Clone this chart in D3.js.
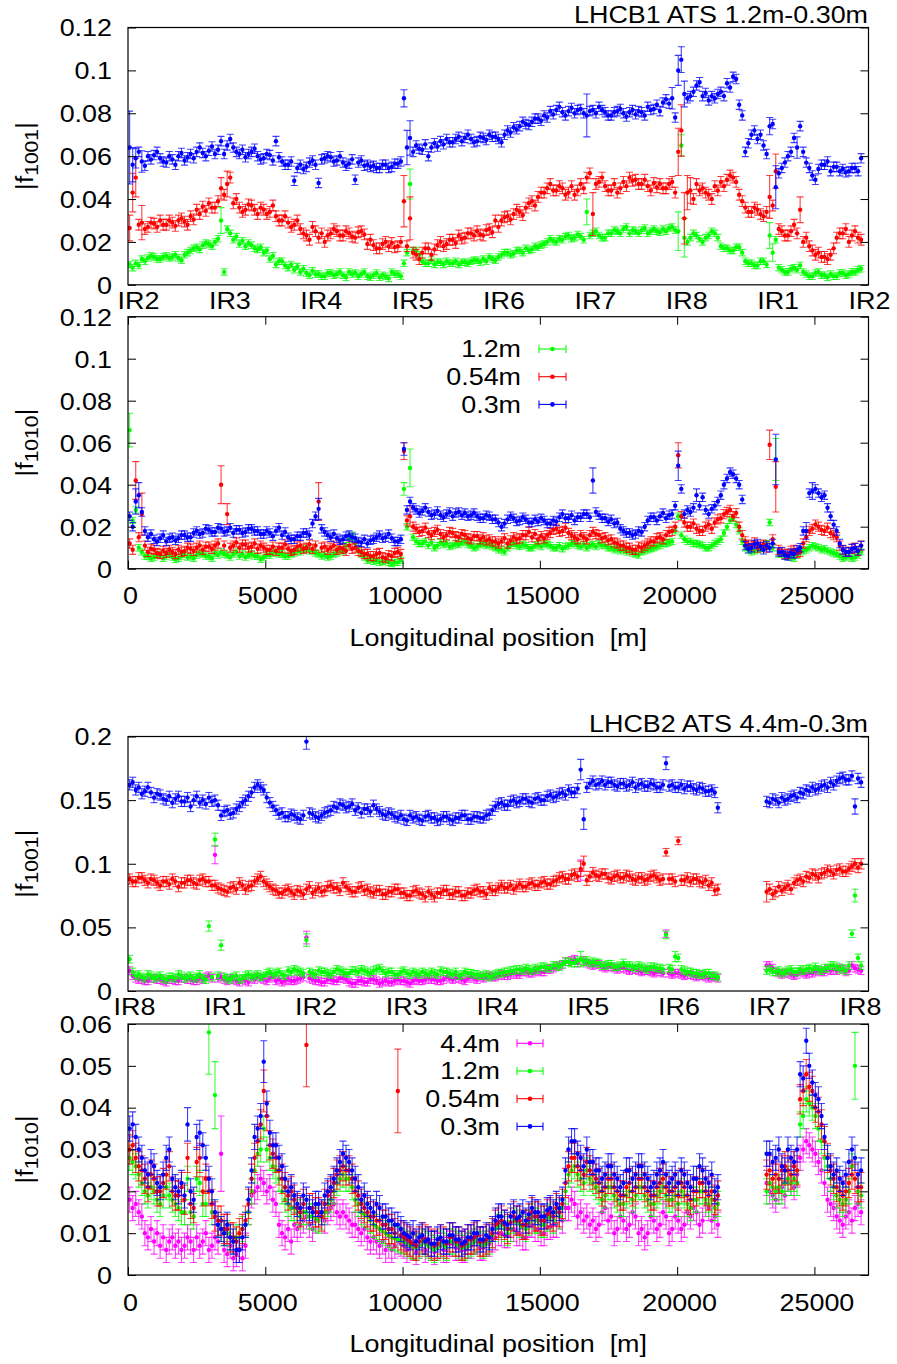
<!DOCTYPE html>
<html><head><meta charset="utf-8">
<script src="https://cdn.jsdelivr.net/npm/d3@7"></script>
<style>
body{margin:0;background:#fff}
svg{display:block;background:#fff}
text{font-family:"Liberation Sans",Arial,sans-serif;fill:#000;white-space:pre}
</style>
</head><body>
<svg id="chart" width="897" height="1364"></svg>
<script>
// ---------------- DATA (values in units of 1e-4) ----------------
const xTicks = [0, 5000, 10000, 15000, 20000, 25000];
const yTicksB1 = [0, 0.02, 0.04, 0.06, 0.08, 0.1, 0.12];
const yTicksB2f1001 = [0, 0.05, 0.1, 0.15, 0.2];
const yTicksB2f1010 = [0, 0.01, 0.02, 0.03, 0.04, 0.05, 0.06];
const irLabelsB1 = ["IR2","IR3","IR4","IR5","IR6","IR7","IR8","IR1","IR2"];
const irLabelsB2 = ["IR8","IR1","IR2","IR3","IR4","IR5","IR6","IR7","IR8"];
const legendB1 = ["1.2m","0.54m","0.3m"];
const legendB2 = ["4.4m","1.2m","0.54m","0.3m"];
const titleB1 = "LHCB1 ATS 1.2m-0.30m";
const titleB2 = "LHCB2 ATS 4.4m-0.3m";
const xLabel = "Longitudinal position  [m]";

// Beam 1 BPM positions [m]
const b1Pos = [60,171,282,393,504,615,726,837,948,1059,1170,1281,1392,1503,1614,1725,1836,1947,2058,2169,
2280,2391,2502,2613,2724,2835,2946,3057,3168,3279,3390,3501,3612,3723,3834,3945,4056,4167,4278,4389,
4500,4611,4722,4833,4944,5055,5166,5277,5388,5499,5610,5721,5832,5943,6054,6165,6276,6387,6498,6609,
6720,6831,6942,7053,7164,7275,7386,7497,7608,7719,7830,7941,8052,8163,8274,8385,8496,8607,8718,8829,
8940,9051,9162,9273,9384,9495,9606,9717,9828,9939,10050,10161,10272,10383,10494,10605,10716,10827,10938,11049,
11160,11271,11382,11493,11604,11715,11826,11937,12048,12159,12270,12381,12492,12603,12714,12825,12936,13047,13158,13269,
13380,13491,13602,13713,13824,13935,14046,14157,14268,14379,14490,14601,14712,14823,14934,15045,15156,15267,15378,15489,
15600,15711,15822,15933,16044,16155,16266,16377,16488,16599,16710,16821,16932,17043,17154,17265,17376,17487,17598,17709,
17820,17931,18042,18153,18264,18375,18486,18597,18708,18819,18930,19041,19152,19263,19374,19485,19596,19707,19818,19929,
20040,20151,20262,20373,20484,20595,20706,20817,20928,21039,21150,21261,21372,21483,21594,21705,21816,21927,22038,22149,
22260,22371,22482,22593,22704,22815,22926,23037,23148,23259,23370,23481,23592,23703,23814,23925,24036,24147,24258,24369,
24480,24591,24702,24813,24924,25035,25146,25257,25368,25479,25590,25701,25812,25923,26034,26145,26256,26367,26478,26589,
26700];

// Beam 2 BPM positions [m] (no data between 21.5 and 23.2 km)
const b2Pos = [60,171,282,393,504,615,726,837,948,1059,1170,1281,1392,1503,1614,1725,1836,1947,2058,2169,
2280,2391,2502,2613,2724,2835,2946,3057,3168,3279,3390,3501,3612,3723,3834,3945,4056,4167,4278,4389,
4500,4611,4722,4833,4944,5055,5166,5277,5388,5499,5610,5721,5832,5943,6054,6165,6276,6387,6498,6609,
6720,6831,6942,7053,7164,7275,7386,7497,7608,7719,7830,7941,8052,8163,8274,8385,8496,8607,8718,8829,
8940,9051,9162,9273,9384,9495,9606,9717,9828,9939,10050,10161,10272,10383,10494,10605,10716,10827,10938,11049,
11160,11271,11382,11493,11604,11715,11826,11937,12048,12159,12270,12381,12492,12603,12714,12825,12936,13047,13158,13269,
13380,13491,13602,13713,13824,13935,14046,14157,14268,14379,14490,14601,14712,14823,14934,15045,15156,15267,15378,15489,
15600,15711,15822,15933,16044,16155,16266,16377,16488,16599,16710,16821,16932,17043,17154,17265,17376,17487,17598,17709,
17820,17931,18042,18153,18264,18375,18486,18597,18708,18819,18930,19041,19152,19263,19374,19485,19596,19707,19818,19929,
20040,20151,20262,20373,20484,20595,20706,20817,20928,21039,21150,21261,21372,21483,
23259,23370,23481,23592,23703,23814,23925,24036,24147,24258,24369,
24480,24591,24702,24813,24924,25035,25146,25257,25368,25479,25590,25701,25812,25923,26034,26145,26256,26367,26478,26589,
26700];

// Beam 1 |f1001|
const b1F1001Green = [95,80,100,90,120,110,125,135,130,120,120,130,135,125,130,140,125,115,140,150,
160,170,175,165,185,195,190,180,200,215,300,60,260,240,210,225,190,205,180,195,
185,170,165,175,150,160,120,135,95,110,110,90,80,95,70,85,60,75,55,45,
65,50,50,40,40,55,55,45,50,60,45,35,60,50,55,40,50,60,40,35,
45,55,35,45,40,30,60,50,50,40,100,150,470,160,160,140,110,100,100,115,
95,105,105,95,110,100,100,110,95,105,105,100,110,115,115,105,120,110,130,120,
115,130,140,150,150,140,145,160,160,150,170,160,165,180,175,185,190,200,215,205,
200,215,210,225,230,215,220,235,225,210,340,230,240,250,230,220,220,240,240,255,
250,240,260,270,240,255,250,240,255,265,240,250,260,250,245,260,250,265,270,255,
250,650,220,200,220,240,230,215,200,220,230,250,240,220,180,170,170,160,160,175,
175,150,110,100,100,90,90,110,110,95,230,150,210,80,70,60,60,75,80,70,
90,60,50,40,40,55,60,45,45,35,50,40,40,55,55,45,50,60,60,70,
75];
const b1F1001Red = [265,430,500,280,290,260,270,290,285,270,300,280,280,300,290,275,300,310,295,280,
320,305,350,330,365,345,380,360,360,390,450,420,470,500,380,400,360,340,350,375,
370,350,330,360,350,330,340,370,320,300,300,320,290,270,280,300,260,240,230,210,
270,250,220,240,200,230,240,260,250,230,230,250,240,225,220,245,250,235,190,210,
185,170,170,190,200,180,195,175,180,200,390,180,310,150,140,120,150,170,170,140,
165,185,200,180,190,210,210,195,230,215,220,240,240,230,250,235,230,255,260,245,
300,270,300,315,320,305,330,350,340,325,360,380,390,370,410,430,430,450,470,440,
440,460,450,420,430,460,420,440,470,450,500,520,330,470,480,500,460,440,440,470,
430,450,480,460,500,485,490,470,470,490,460,440,475,455,470,450,450,470,480,430,
620,720,310,430,440,400,470,440,450,430,420,400,460,440,480,460,490,510,500,480,
420,390,360,340,340,360,350,330,320,340,410,370,530,260,250,230,230,250,280,240,
350,200,220,180,160,140,150,130,130,120,140,170,220,240,240,260,200,230,250,220,
210];
const b1F1001Blue = [640,560,590,620,575,555,600,585,605,620,590,575,570,600,585,560,600,615,580,595,
610,590,620,640,615,600,625,645,610,630,670,610,650,680,640,620,610,630,595,610,
620,635,600,585,590,610,605,580,670,595,575,560,560,575,485,545,560,540,550,570,
580,560,475,585,590,600,595,575,580,600,570,555,565,585,490,570,580,555,560,550,
555,545,545,560,560,545,550,565,565,575,870,640,685,620,650,635,630,655,600,640,
660,645,670,655,680,665,665,680,690,670,685,700,680,665,670,690,685,675,700,690,
690,680,665,700,720,710,735,725,740,760,750,745,760,775,775,765,790,780,810,795,
815,830,805,790,810,825,800,815,820,800,790,810,815,800,830,815,805,790,790,805,
810,820,800,785,805,815,795,810,805,790,830,815,820,840,810,850,865,845,870,780,
1000,1050,890,870,880,900,930,945,880,895,860,880,870,890,900,880,940,920,970,960,
840,790,620,660,700,720,680,700,650,610,740,750,455,520,545,570,600,620,685,640,
740,620,570,545,510,490,540,560,560,575,530,550,550,530,540,525,530,545,545,530,
590];
const b1F1001GreenErr = [15,[30,60],[92,70],[150,60],[180,90],[181,50],[182,90],[210,60],[211,40]];
const b1F1001RedErr = [25,[0,60],[1,90],[2,90],[4,80],[30,50],[32,60],[90,120],[92,100],[152,100],[180,110],[181,120],[182,120],[183,80],[184,60],[210,100],[212,80],[220,60]];
const b1F1001BlueErr = [22,[0,170],[1,80],[2,45],[4,50],[90,40],[91,80],[92,80],[150,100],[178,50],[180,70],[181,60],[182,60],[210,40],[212,100],[219,50]];

// Beam 1 |f1010|
const b1F1010Green = [660,230,280,100,80,60,60,50,55,65,65,50,60,70,55,45,50,60,70,55,
60,50,65,75,70,60,60,50,75,65,80,70,65,55,70,80,60,70,55,65,
70,60,60,45,55,65,65,75,80,70,70,60,60,70,75,85,80,90,95,85,
85,75,70,60,65,55,60,70,75,90,80,110,140,160,120,90,70,55,40,45,
35,40,30,35,40,30,25,30,30,40,380,200,480,150,130,120,120,130,110,125,
100,110,125,115,120,105,110,120,115,125,130,115,110,100,105,115,120,110,115,105,
100,90,90,80,100,110,120,110,105,115,110,100,100,110,115,105,120,115,110,100,
100,110,95,105,110,120,120,110,105,115,100,110,115,105,120,110,110,100,100,90,
95,85,90,80,85,75,70,65,80,85,90,95,100,105,110,120,120,125,130,180,
250,160,140,130,130,120,120,115,110,100,100,110,120,130,140,170,200,230,240,210,
180,130,100,90,80,85,90,95,100,120,220,100,520,70,70,60,60,55,50,65,
80,85,90,100,110,105,100,90,95,85,80,75,70,60,50,55,60,50,55,65,
80];
const b1F1010Red = [120,90,420,150,260,110,80,95,90,75,70,85,75,90,80,70,90,80,85,100,
95,85,100,110,90,105,105,95,110,120,400,110,260,100,110,125,100,115,115,100,
105,120,95,110,100,90,90,105,85,100,100,115,95,85,90,105,110,95,100,115,
95,110,320,100,105,90,100,110,90,100,95,85,110,95,100,85,80,70,70,60,
60,70,75,55,50,65,60,75,80,70,560,230,250,200,190,175,180,195,170,160,
175,185,165,150,160,175,170,155,150,165,160,145,140,155,155,140,150,135,140,130,
130,120,130,145,120,135,150,140,145,160,160,175,150,165,140,155,145,160,170,185,
190,175,180,195,170,160,150,140,160,150,140,160,175,165,160,145,150,135,140,125,
120,110,110,100,100,90,90,105,100,110,120,130,130,145,150,140,160,175,180,200,
540,250,220,200,200,215,190,180,180,200,210,190,220,235,240,260,270,280,250,265,
200,160,130,115,110,125,100,110,115,100,590,140,390,90,80,70,70,85,90,75,
80,120,150,180,190,210,200,185,180,195,170,160,150,110,90,80,80,95,100,85,
110];
const b1F1010Blue = [250,200,320,350,270,180,150,165,140,130,145,160,130,145,150,135,145,160,160,150,
150,170,180,165,170,190,185,175,175,195,190,175,180,195,170,185,185,170,175,190,
190,180,180,165,165,180,170,155,180,195,160,175,150,140,140,155,155,170,170,160,
215,250,285,190,175,160,150,165,145,135,140,155,160,150,145,130,125,140,120,135,
140,150,160,145,150,165,145,130,130,140,570,280,320,290,280,265,275,290,270,255,
260,275,255,245,260,270,250,265,270,255,265,250,255,265,250,240,240,255,250,235,
235,220,200,215,235,250,240,225,230,245,235,220,220,235,225,240,230,215,215,230,
225,245,260,240,240,255,230,245,245,260,260,245,420,270,255,240,240,225,235,215,
220,190,180,170,170,160,165,180,175,200,230,245,245,230,250,265,240,255,260,300,
490,380,260,280,270,290,350,300,340,280,260,285,300,320,350,400,430,460,450,430,
400,330,110,95,100,115,120,105,90,110,100,120,520,80,80,65,60,75,70,90,
100,180,180,360,370,380,360,340,350,290,250,210,180,120,90,80,80,95,100,85,
110];
const b1F1010GreenErr = [15,[0,80],[90,30],[92,90],[212,100]];
const b1F1010RedErr = [22,[2,90],[4,100],[30,90],[32,50],[62,90],[90,40],[92,50],[180,60],[210,70],[212,120]];
const b1F1010BlueErr = [20,[2,60],[3,60],[62,50],[90,30],[152,60],[180,70],[186,30],[212,120],[222,40],[224,40]];

// Beam 2 |f1001|
const b2F1001Magenta = [160,120,100,90,90,80,80,100,100,90,90,80,70,90,90,80,80,100,100,90,
90,80,80,100,90,110,120,100,1070,100,110,90,80,100,90,80,70,90,80,70,
100,90,110,100,90,80,100,110,80,90,70,80,90,80,80,90,100,110,420,100,
90,80,80,70,70,90,90,80,80,100,100,90,70,60,60,80,80,70,70,90,
90,80,60,70,80,70,70,80,90,80,80,70,60,80,90,80,80,90,100,90,
90,80,80,90,110,100,90,100,100,90,80,100,110,100,90,110,100,110,120,110,
110,120,130,120,120,130,140,130,130,150,150,140,140,150,160,150,150,170,170,180,
190,200,210,230,230,240,250,220,950,240,220,210,200,210,210,190,180,190,190,180,
170,180,180,170,160,170,170,160,150,160,160,150,140,150,150,140,450,140,130,140,
140,130,120,130,130,120,110,120,120,110,100,110,110,100,
200,200,180,150,140,130,140,140,130,120,130,150,140,130,140,140,150,160,150,150,
170,160,170,160,180,170,150,160,200,180,170,160];
const b2F1001Green = [250,150,120,130,110,100,130,120,100,110,120,100,90,110,110,100,130,120,100,110,
120,100,110,130,100,90,510,110,1190,120,360,110,100,90,110,120,90,100,120,130,
110,120,130,110,120,140,150,130,140,150,130,120,160,150,170,160,150,140,400,150,
140,130,160,150,150,140,130,150,170,160,150,140,140,160,160,150,170,160,150,140,
160,170,180,160,140,150,150,130,130,150,160,140,130,150,140,130,150,140,130,150,
140,130,160,150,150,140,130,150,120,130,150,140,140,130,130,120,120,130,110,120,
130,140,140,150,150,160,160,170,170,160,180,170,160,180,170,190,190,180,180,200,
200,190,210,230,230,220,220,240,250,230,240,220,230,220,220,200,200,210,210,190,
190,200,220,200,200,190,180,200,190,180,170,190,190,180,180,170,440,180,170,270,
260,170,160,150,150,140,140,130,130,140,140,120,120,110,
160,170,150,150,160,140,150,160,170,150,150,170,160,170,180,170,190,170,160,180,
180,200,200,190,170,180,160,200,450,750,260,200];
const b2F1001Red = [880,860,860,890,890,870,850,880,870,850,830,860,860,840,880,860,820,850,850,870,
870,850,840,870,880,860,860,830,830,810,800,790,780,810,820,800,850,830,800,820,
830,860,880,900,860,840,820,800,790,770,770,790,800,780,760,790,780,760,800,820,
770,790,810,780,790,820,830,810,810,790,850,820,800,780,780,810,820,790,800,780,
770,790,790,760,760,780,780,800,800,770,770,750,750,780,790,770,760,740,780,760,
740,770,770,790,790,760,760,780,780,750,750,770,770,790,800,780,780,760,810,790,
790,810,830,810,810,830,800,820,840,820,820,840,850,830,830,850,860,840,840,860,
870,890,900,880,880,910,920,900,960,1000,870,900,930,910,900,920,920,890,880,900,
910,890,890,910,900,880,870,890,890,870,880,900,910,890,870,880,1090,880,880,860,
1180,870,870,890,860,880,880,860,850,870,830,850,790,800,
780,800,760,780,820,790,810,830,800,850,870,880,860,900,890,920,910,890,920,930,
950,940,920,950,960,940,940,960,980,1000,970,1000];
const b2F1001Blue = [1620,1640,1580,1600,1550,1570,1600,1560,1520,1550,1540,1510,1500,1530,1480,1510,1530,1490,1490,1520,
1450,1500,1530,1480,1500,1470,1520,1490,1500,1460,1380,1410,1420,1390,1400,1430,1450,1480,1500,1530,
1560,1600,1620,1600,1580,1520,1480,1450,1420,1390,1400,1370,1370,1390,1380,1360,1350,1380,1960,1400,
1390,1370,1360,1380,1400,1410,1420,1450,1440,1470,1460,1440,1450,1470,1420,1440,1400,1430,1430,1410,
1460,1430,1410,1390,1380,1400,1390,1370,1360,1380,1350,1340,1380,1360,1370,1350,1340,1370,1380,1360,
1360,1340,1350,1370,1370,1350,1340,1360,1360,1380,1380,1350,1350,1370,1370,1360,1360,1380,1390,1420,
1450,1470,1480,1460,1460,1490,1500,1480,1490,1510,1510,1490,1480,1510,1520,1500,1500,1530,1540,1520,
1530,1550,1560,1540,1580,1560,1560,1590,1740,1350,1600,1630,1650,1620,1630,1650,1620,1640,1640,1620,
1610,1630,1630,1610,1620,1640,1600,1620,1630,1610,1610,1630,1620,1600,1600,1620,1790,1610,1620,1600,
1600,1620,1590,1610,1610,1590,1580,1600,1590,1570,1570,1580,1560,1440,
1490,1480,1510,1500,1480,1520,1500,1510,1530,1540,1520,1560,1550,1580,1570,1600,1580,1590,1610,1620,
1600,1640,1620,1650,1670,1680,1660,1660,1690,1450,1670,1640];
const b2F1001MagentaErr = [30,[28,70],[58,50],[148,80],[176,30]];
const b2F1001GreenErr = [30,[26,40],[28,50],[30,40],[58,50],[148,60],[176,30],[179,40],[222,30],[223,50]];
const b2F1001RedErr = [40,[148,60],[149,60],[176,30],[180,30],[194,80]];
const b2F1001BlueErr = [40,[58,60],[148,80],[149,80],[176,50],[193,40],[223,60]];

// Beam 2 |f1010|
const b2F1010Magenta = [180,160,170,150,140,100,90,110,80,100,70,90,60,80,90,70,80,60,70,90,
80,60,90,70,80,100,60,70,90,80,290,60,50,70,40,50,60,40,70,150,
190,200,210,230,220,200,210,180,170,120,100,90,110,80,120,110,120,130,140,120,
110,130,140,150,130,150,160,170,150,140,150,140,130,120,120,110,100,110,90,80,
90,80,70,80,60,70,60,70,80,75,70,60,75,65,55,70,80,60,75,65,
55,70,70,60,60,75,75,65,65,60,60,70,70,80,80,65,65,75,75,85,
90,100,100,95,95,110,110,100,100,90,90,120,120,110,110,100,100,115,115,120,
120,140,130,160,160,180,170,140,150,130,140,120,130,110,120,150,160,130,140,100,
110,140,130,110,120,150,140,100,110,90,100,140,130,110,120,150,140,100,110,140,
130,110,120,150,140,160,150,120,130,170,160,130,140,120,
220,200,190,180,200,210,190,230,220,210,240,280,300,320,310,300,290,270,250,220,
180,170,160,140,130,120,140,150,130,160,170,150];
const b2F1010Green = [280,270,260,240,220,200,190,210,200,180,170,190,210,190,180,170,160,150,150,230,
150,140,230,220,170,170,580,150,430,120,110,100,100,90,80,90,90,110,120,150,
200,250,290,300,350,300,280,260,250,230,200,180,170,160,160,150,140,150,150,140,
140,135,130,140,150,170,180,200,220,230,240,230,230,210,180,170,150,145,140,130,
120,115,110,105,100,95,90,88,85,82,80,75,70,68,65,70,80,75,70,65,
60,65,75,70,65,80,80,75,70,65,65,70,75,80,85,75,70,75,80,95,
110,115,120,110,100,110,130,125,120,115,110,125,140,130,130,120,120,135,140,130,
150,140,160,200,240,250,260,240,230,220,250,230,220,210,200,180,190,210,210,190,
180,170,170,190,200,180,190,210,210,190,180,170,170,190,200,210,190,180,180,190,
170,200,190,170,160,180,180,200,200,180,170,180,160,170,
200,220,210,200,210,200,220,230,220,230,220,360,380,420,410,400,380,350,320,280,
260,230,210,190,180,170,180,200,260,500,200,190];
const b2F1010Red = [300,310,280,260,250,230,210,240,230,200,200,220,240,260,200,190,190,210,180,280,
170,160,270,280,200,230,200,170,140,130,130,110,110,90,90,80,100,110,130,170,
230,280,320,360,440,380,310,290,280,250,230,210,190,200,180,160,150,170,550,160,
160,150,150,140,170,190,200,220,240,250,260,250,250,230,200,190,170,160,150,140,
140,130,130,120,120,110,110,100,440,95,90,85,80,75,70,80,90,85,80,75,
70,75,85,80,75,90,90,80,80,70,75,85,85,90,95,80,80,85,90,100,
120,125,130,120,110,125,140,130,130,120,120,135,150,140,140,130,130,145,150,140,
160,150,170,220,260,280,280,260,250,240,270,250,240,230,220,200,210,230,230,210,
200,190,190,210,220,200,210,230,230,210,200,190,190,210,220,230,210,200,200,210,
190,220,210,190,180,200,200,220,220,200,190,200,180,190,
240,250,230,240,230,250,260,250,240,260,250,420,440,480,450,440,400,390,360,320,
280,250,230,210,200,190,200,220,240,230,210,210];
const b2F1010Blue = [350,360,330,300,280,250,240,270,260,220,210,240,280,300,230,210,200,220,190,360,
200,180,330,340,310,280,230,200,150,120,110,100,120,90,80,60,60,90,120,180,
250,330,350,380,510,410,340,310,310,280,260,230,200,210,190,170,160,190,180,160,
150,170,170,150,190,200,210,230,250,270,290,280,270,250,230,210,180,190,170,160,
150,170,160,140,140,130,130,120,120,110,100,95,90,100,80,90,95,80,85,75,
75,85,90,80,80,95,95,85,85,75,80,90,90,100,100,85,85,95,90,110,
130,140,140,125,120,140,150,135,140,150,130,145,160,150,150,140,140,155,160,150,
170,160,180,250,300,320,320,290,280,260,300,270,270,250,250,230,240,260,260,240,
230,210,220,250,250,230,240,260,260,240,230,210,220,240,250,270,240,220,230,240,
220,250,240,220,210,230,230,260,250,230,220,240,200,210,
290,290,270,280,300,260,250,300,280,270,300,480,470,560,500,460,430,420,380,330,
280,260,240,250,230,220,240,270,300,280,240,250];
const b2F1010MagentaErr = [30,[30,90]];
const b2F1010GreenErr = [30,[26,100],[28,80],[223,80]];
const b2F1010RedErr = [35,[44,50],[58,100],[88,100]];
const b2F1010BlueErr = [30,[19,40],[44,50],[207,30]];

// ---------------- STYLE / LAYOUT ----------------
const UNIT = 1e-4;
const colGreen = "#00ff00", colRed = "#ff0000", colBlue = "#0000ff", colMag = "#ff00ff";
const FONT = 23, SX = 1.17;
const X0 = 128, X1 = 868.5;

const svg = d3.select("#chart");
svg.append("rect").attr("width",897).attr("height",1364).attr("fill","#fff");
const x = d3.scaleLinear().domain([0, 26970]).range([X0, X1]);

function errArr(spec, n){
  const a = new Array(n).fill(spec[0]);
  spec.slice(1).forEach(([i,e]) => { a[i] = e; });
  return a;
}
function stext(sel, tx, ty, str, anchor, size){
  return sel.append("text")
    .attr("transform", `translate(${tx},${ty}) scale(${SX},1)`)
    .attr("text-anchor", anchor).attr("font-size", size || FONT).text(str);
}

const panels = [
  {top:27.5, bot:284.8, ymax:0.12, yTicks:yTicksB1, pos:b1Pos, sub:"1001", title:titleB1,
   ir:irLabelsB1, irRange:[138,869], xaxis:false, cap:3.5,
   series:[[b1F1001Green,b1F1001GreenErr,colGreen],[b1F1001Red,b1F1001RedErr,colRed],[b1F1001Blue,b1F1001BlueErr,colBlue]]},
  {top:316.7, bot:568.7, ymax:0.12, yTicks:yTicksB1, pos:b1Pos, sub:"1010", xaxis:true, cap:3.5,
   legend:{labels:legendB1, colors:[colGreen,colRed,colBlue], textX:521, symX:[539,566], y0:349},
   series:[[b1F1010Green,b1F1010GreenErr,colGreen],[b1F1010Red,b1F1010RedErr,colRed],[b1F1010Blue,b1F1010BlueErr,colBlue]]},
  {top:736.5, bot:991, ymax:0.2, yTicks:yTicksB2f1001, pos:b2Pos, sub:"1001", title:titleB2,
   ir:irLabelsB2, irRange:[134,860], xaxis:false, cap:3.5,
   series:[[b2F1001Magenta,b2F1001MagentaErr,colMag],[b2F1001Green,b2F1001GreenErr,colGreen],[b2F1001Red,b2F1001RedErr,colRed],[b2F1001Blue,b2F1001BlueErr,colBlue]]},
  {top:1024, bot:1275, ymax:0.06, yTicks:yTicksB2f1010, pos:b2Pos, sub:"1010", xaxis:true, cap:3.5,
   legend:{labels:legendB2, colors:[colMag,colGreen,colRed,colBlue], textX:500, symX:[517,543], y0:1043.3},
   series:[[b2F1010Magenta,b2F1010MagentaErr,colMag],[b2F1010Green,b2F1010GreenErr,colGreen],[b2F1010Red,b2F1010RedErr,colRed],[b2F1010Blue,b2F1010BlueErr,colBlue]]}
];

const defs = svg.append("defs");

panels.forEach((p, k) => {
  const y = d3.scaleLinear().domain([0, p.ymax]).range([p.bot, p.top]);
  const g = svg.append("g");
  defs.append("clipPath").attr("id", "clip" + k).append("rect")
    .attr("x", X0).attr("y", p.top).attr("width", X1 - X0).attr("height", p.bot - p.top);

  const dg = g.append("g").attr("clip-path", `url(#clip${k})`);
  p.series.forEach(([vals, errSpec, col]) => {
    const errs = errArr(errSpec, vals.length);
    const data = vals.map((v, i) => ({px: x(p.pos[i]), v: v * UNIT, e: errs[i] * UNIT}));
    const sg = dg.append("g");
    const eb = sg.append("g").attr("stroke", col).attr("stroke-width", 1.1).attr("stroke-opacity", 0.75);
    eb.selectAll(".v").data(data).join("line").attr("class","v")
      .attr("x1", d => d.px).attr("x2", d => d.px)
      .attr("y1", d => y(d.v - d.e)).attr("y2", d => y(d.v + d.e));
    eb.selectAll(".t").data(data).join("line").attr("class","t")
      .attr("x1", d => d.px - p.cap).attr("x2", d => d.px + p.cap)
      .attr("y1", d => y(d.v + d.e)).attr("y2", d => y(d.v + d.e));
    eb.selectAll(".b").data(data).join("line").attr("class","b")
      .attr("x1", d => d.px - p.cap).attr("x2", d => d.px + p.cap)
      .attr("y1", d => y(d.v - d.e)).attr("y2", d => y(d.v - d.e));
    sg.selectAll("circle").data(data).join("circle")
      .attr("cx", d => d.px).attr("cy", d => y(d.v)).attr("r", 2.2).attr("fill", col);
  });

  g.append("rect").attr("x", X0).attr("y", p.top).attr("width", X1 - X0).attr("height", p.bot - p.top)
    .attr("fill", "none").attr("stroke", "#000").attr("stroke-width", 1.2);

  const yl = g.append("g").attr("transform", `translate(${X0},0)`)
    .call(d3.axisLeft(y).tickValues(p.yTicks).tickSize(-8).tickSizeOuter(0).tickFormat(d => String(d)));
  yl.select(".domain").remove();
  yl.attr("font-size", FONT).attr("font-family", null);
  yl.selectAll("text").attr("x", null).attr("dy", null)
    .attr("transform", `translate(-16,8.3) scale(${SX},1)`).attr("text-anchor", "end").attr("fill", "#000");
  const yr = g.append("g").attr("transform", `translate(${X1},0)`)
    .call(d3.axisRight(y).tickValues(p.yTicks).tickSize(-8).tickSizeOuter(0).tickFormat(""));
  yr.select(".domain").remove();

  if (p.xaxis) {
    const xb = g.append("g").attr("transform", `translate(0,${p.bot})`)
      .call(d3.axisBottom(x).tickValues(xTicks).tickSize(-8).tickSizeOuter(0).tickFormat(d => String(d)));
    xb.select(".domain").remove();
    xb.attr("font-size", FONT).attr("font-family", null);
    xb.selectAll("text").attr("y", null).attr("dy", null)
      .attr("transform", `translate(2,35.5) scale(${SX},1)`).attr("fill", "#000");
    const xt = g.append("g").attr("transform", `translate(0,${p.top})`)
      .call(d3.axisTop(x).tickValues(xTicks).tickSize(-8).tickSizeOuter(0).tickFormat(""));
    xt.select(".domain").remove();
    stext(g, (X0 + X1) / 2, p.bot + 77, xLabel, "middle");
  }
  if (p.ir) {
    const ir = d3.scalePoint().domain(d3.range(p.ir.length)).range(p.irRange);
    const xa = g.append("g").attr("transform", `translate(0,${p.bot})`)
      .call(d3.axisBottom(ir).tickSize(0).tickFormat(i => p.ir[i]));
    xa.select(".domain").remove();
    xa.attr("font-size", FONT).attr("font-family", null);
    xa.selectAll("text").attr("y", null).attr("dy", null)
      .attr("transform", `translate(0,23.8) scale(${SX},1)`).attr("fill", "#000");
  }
  if (p.title) stext(g, 868, p.top - 5, p.title, "end");

  const cy = (p.top + p.bot) / 2;
  const yt = g.append("text").attr("transform", `translate(33,${cy}) rotate(-90) scale(${SX},1)`)
    .attr("text-anchor", "middle").attr("font-size", FONT);
  yt.append("tspan").text("|f");
  yt.append("tspan").attr("font-size", 18).attr("dy", 5).text(p.sub);
  yt.append("tspan").attr("dy", -5).text("|");

  if (p.legend) {
    const L = p.legend;
    L.labels.forEach((lab, j) => {
      const ly = L.y0 + j * 27.7;
      stext(g, L.textX, ly + 8.3, lab, "end");
      const lg = g.append("g").attr("stroke", L.colors[j]).attr("stroke-width", 1.1);
      lg.append("line").attr("x1", L.symX[0]).attr("x2", L.symX[1]).attr("y1", ly).attr("y2", ly);
      lg.append("line").attr("x1", L.symX[0]).attr("x2", L.symX[0]).attr("y1", ly - 4).attr("y2", ly + 4);
      lg.append("line").attr("x1", L.symX[1]).attr("x2", L.symX[1]).attr("y1", ly - 4).attr("y2", ly + 4);
      g.append("circle").attr("cx", (L.symX[0] + L.symX[1]) / 2).attr("cy", ly).attr("r", 2.3).attr("fill", L.colors[j]);
    });
  }
});
</script>
</body></html>
